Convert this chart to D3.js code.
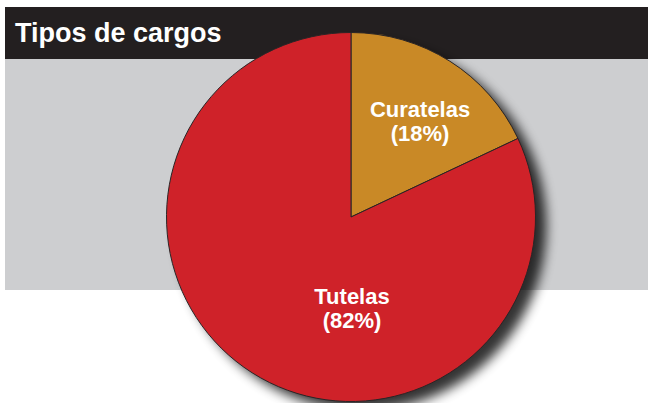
<!DOCTYPE html>
<html>
<head>
<meta charset="utf-8">
<script src="https://cdn.jsdelivr.net/npm/d3@7"></script>
<style>
  body { margin: 0; background: #fff; }
  svg { display: block; }
</style>
</head>
<body>
<div id="chart"></div>
<script>
// datos del grafico
var categorias = ["Curatelas", "Tutelas"];
var valores = [18, 82];
var colores = ["#C98926", "#CF2229"];
var titulo = "Tipos de cargos";

var width = 648, height = 403;
var cx = 351, cy = 217, radio = 184.5;

var svg = d3.select("#chart")
  .append("svg")
  .attr("width", width)
  .attr("height", height);

// filtro para la sombra
var defs = svg.append("defs");
var f = defs.append("filter")
  .attr("id", "sombra")
  .attr("x", "-20%").attr("y", "-20%")
  .attr("width", "150%").attr("height", "150%");
f.append("feGaussianBlur").attr("in", "SourceAlpha").attr("stdDeviation", 6);
f.append("feOffset").attr("dx", 11).attr("dy", 9).attr("result", "off");
f.append("feComponentTransfer").append("feFuncA").attr("type", "linear").attr("slope", 0.8);

// franja gris
svg.append("rect")
  .attr("x", 5).attr("y", 59)
  .attr("width", width - 5).attr("height", 231)
  .attr("fill", "#CDCED0");

// barra negra del titulo
svg.append("rect")
  .attr("x", 5).attr("y", 7)
  .attr("width", width - 5).attr("height", 52)
  .attr("fill", "#231F20");

svg.append("text")
  .attr("x", 15)
  .attr("y", 42)
  .attr("fill", "#fff")
  .style("font-family", "'Liberation Sans', Arial, sans-serif")
  .style("font-weight", "bold")
  .style("font-size", "27px")
  .text(titulo);

var g = svg.append("g")
  .attr("transform", "translate(" + cx + "," + cy + ")");

// sombra detras del pie
g.append("circle")
  .attr("r", radio)
  .attr("fill", "#3a3c3f")
  .attr("filter", "url(#sombra)");

var pie = d3.pie().sort(null).value(d => d);
var arc = d3.arc().innerRadius(0).outerRadius(radio);
var arcos = pie(valores);

g.selectAll("path")
  .data(arcos)
  .join("path")
  .attr("d", arc)
  .attr("fill", (d, i) => colores[i])
  .attr("stroke", "#2a2526")
  .attr("stroke-width", 1);

// etiquetas (Curatelas sobre su porcion, Tutelas debajo del centro)
var etiquetas = arcos.map(function(d, i) {
  var p;
  if (i === 0) {
    var a = (d.startAngle + d.endAngle) / 2 + 0.06;
    p = [Math.sin(a) * 118, -Math.cos(a) * 118];
  } else {
    p = [1, 91];
  }
  return { x: p[0], y: p[1], nombre: categorias[i], pct: "(" + valores[i] + "%)" };
});

var t = g.selectAll("text.etiqueta")
  .data(etiquetas)
  .join("text")
  .attr("class", "etiqueta")
  .attr("text-anchor", "middle")
  .attr("fill", "#fff")
  .style("font-family", "'Liberation Sans', Arial, sans-serif")
  .style("font-weight", "bold")
  .style("font-size", "22px");

t.append("tspan")
  .attr("x", d => d.x)
  .attr("y", d => d.y - 4)
  .text(d => d.nombre);
t.append("tspan")
  .attr("x", d => d.x)
  .attr("y", d => d.y + 20)
  .text(d => d.pct);
</script>
</body>
</html>
